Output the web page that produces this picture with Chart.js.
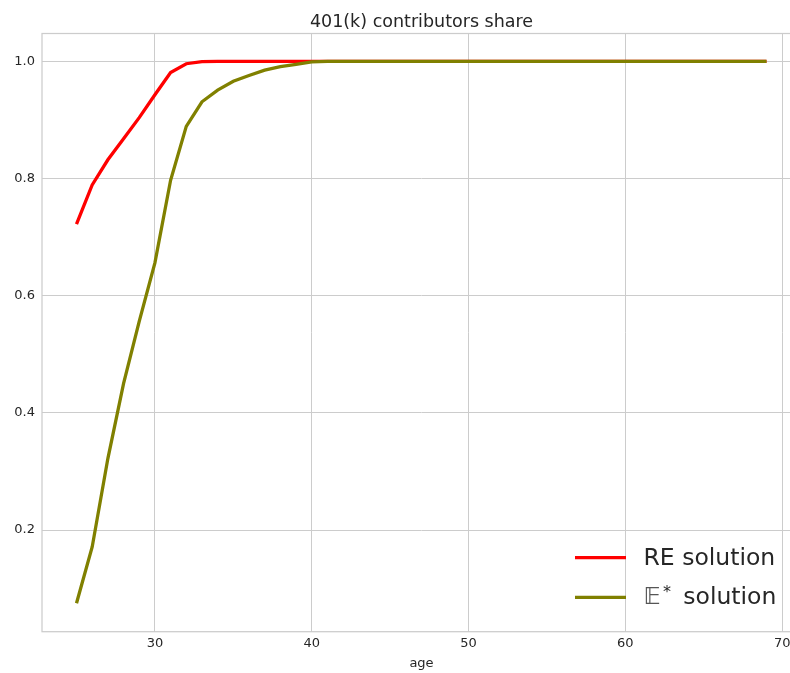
<!DOCTYPE html>
<html>
<head>
<meta charset="utf-8">
<script src="https://cdn.jsdelivr.net/npm/chart.js@4.4.1/dist/chart.umd.min.js"></script>
<style>
  html, body { margin: 0; padding: 0; background: #ffffff; overflow: hidden; width: 790px; height: 673px; }
  #clip { position: relative; width: 790px; height: 673px; overflow: hidden; }
  #wrap { position: absolute; left: 0; top: 0; width: 815px; height: 673px; }
</style>
</head>
<body>
<div id="clip"><div id="wrap"><canvas id="c"></canvas></div></div>
<script>
// ---- data ----
const titleText = "401(k) contributors share";
const xAxisLabel = "age";
const ages = [25, 26, 27, 28, 29, 30, 31, 32, 33, 34, 35, 36, 37, 38, 39, 40, 41, 42, 43, 44,
              45, 46, 47, 48, 49, 50, 51, 52, 53, 54, 55, 56, 57, 58, 59, 60, 61, 62, 63, 64,
              65, 66, 67, 68, 69];
const reSolution = [0.722, 0.789, 0.832, 0.868, 0.904, 0.943, 0.981, 0.996, 0.9995, 1.0,
                    1.0, 1.0, 1.0, 1.0, 1.0, 1.0, 1.0, 1.0, 1.0, 1.0,
                    1.0, 1.0, 1.0, 1.0, 1.0, 1.0, 1.0, 1.0, 1.0, 1.0,
                    1.0, 1.0, 1.0, 1.0, 1.0, 1.0, 1.0, 1.0, 1.0, 1.0,
                    1.0, 1.0, 1.0, 1.0, 1.0];
const eStarSolution = [0.075, 0.171, 0.322, 0.450, 0.556, 0.656, 0.797, 0.889, 0.931, 0.951,
                       0.966, 0.976, 0.985, 0.991, 0.995, 0.999, 1.0, 1.0, 1.0, 1.0,
                       1.0, 1.0, 1.0, 1.0, 1.0, 1.0, 1.0, 1.0, 1.0, 1.0,
                       1.0, 1.0, 1.0, 1.0, 1.0, 1.0, 1.0, 1.0, 1.0, 1.0,
                       1.0, 1.0, 1.0, 1.0, 1.0];
const seriesNames = ["RE solution", "E* solution"];
const xTicks = [30, 40, 50, 60, 70];
const yTicks = [0.2, 0.4, 0.6, 0.8, 1.0];

const textColor = '#262626';
const gridColor = '#cccccc';

Chart.defaults.font.family = '"DejaVu Sans", sans-serif';
Chart.defaults.color = textColor;

const framePlugin = {
  id: 'frame',
  beforeDatasetsDraw(chart) {
    const a = chart.chartArea, ctx = chart.ctx;
    ctx.save();
    ctx.strokeStyle = gridColor;
    ctx.lineWidth = 1.25;
    ctx.strokeRect(a.left, a.top, a.right - a.left, a.bottom - a.top);
    ctx.restore();
  }
};

const legendPlugin = {
  id: 'mplLegend',
  afterDraw(chart) {
    const ctx = chart.ctx;
    const ds = chart.data.datasets;
    const rows = [565, 604];
    const lineY = [557.7, 597.3];
    ctx.save();
    ctx.textBaseline = 'alphabetic';
    ctx.textAlign = 'left';
    ds.forEach((d, i) => {
      ctx.strokeStyle = d.borderColor;
      ctx.lineWidth = 3.3;
      ctx.lineCap = 'butt';
      ctx.beginPath();
      ctx.moveTo(575, lineY[i]);
      ctx.lineTo(626, lineY[i]);
      ctx.stroke();
    });
    ctx.fillStyle = textColor;
    ctx.font = '23.5px "DejaVu Sans"';
    ctx.fillText(seriesNames[0], 643.5, rows[0]);
    // blackboard-bold E with superscript star
    ctx.fillStyle = '#555555';
    ctx.fillText('\u{1D53C}', 643.5, rows[1]);
    ctx.font = '16px "DejaVu Sans"';
    ctx.fillStyle = textColor;
    ctx.fillText('*', 663, rows[1] - 7);
    ctx.font = '23.5px "DejaVu Sans"';
    ctx.fillText('solution', 683.3, rows[1]);
    ctx.restore();
  }
};

new Chart(document.getElementById('c'), {
  type: 'line',
  data: {
    datasets: [
      {
        label: seriesNames[0],
        data: ages.map((a, i) => ({ x: a, y: reSolution[i] })),
        borderColor: '#ff0000',
        backgroundColor: '#ff0000',
        borderWidth: 3.3,
        pointRadius: 0,
        tension: 0,
        fill: false,
        order: 1
      },
      {
        label: seriesNames[1],
        data: ages.map((a, i) => ({ x: a, y: eStarSolution[i] })),
        borderColor: '#808000',
        backgroundColor: '#808000',
        borderWidth: 3.3,
        pointRadius: 0,
        tension: 0,
        fill: false,
        order: 0
      }
    ]
  },
  options: {
    responsive: true,
    maintainAspectRatio: false,
    animation: false,
    devicePixelRatio: 1,
    layout: { padding: { left: 0, right: 14, top: 0, bottom: 0 } },
    plugins: {
      legend: { display: false },
      tooltip: { enabled: false },
      title: {
        display: true,
        text: titleText,
        fullSize: false,
        color: textColor,
        font: { size: 17.5, weight: 'normal' },
        padding: { top: 11.5, bottom: 1 }
      }
    },
    scales: {
      x: {
        type: 'linear',
        min: 22.8,
        max: 71.2,
        afterBuildTicks(scale) { scale.ticks = xTicks.map(v => ({ value: v })); },
        afterFit(scale) { scale.height = 41.3; },
        grid: { color: gridColor, lineWidth: 1, drawTicks: false },
        border: { display: false },
        ticks: {
          color: textColor,
          font: { size: 13 },
          padding: 4,
          maxRotation: 0,
          callback: v => String(v)
        },
        title: {
          display: true,
          text: xAxisLabel,
          color: textColor,
          font: { size: 13 },
          padding: { top: 0, bottom: 2 }
        }
      },
      y: {
        type: 'linear',
        min: 0.0264,
        max: 1.0476,
        afterBuildTicks(scale) { scale.ticks = yTicks.map(v => ({ value: v })); },
        afterFit(scale) { scale.width = 42; },
        grid: { color: gridColor, lineWidth: 1, drawTicks: false },
        border: { display: false },
        ticks: {
          color: textColor,
          font: { size: 13 },
          padding: 7,
          callback: v => Number(v).toFixed(1)
        }
      }
    }
  },
  plugins: [framePlugin, legendPlugin]
});
</script>
</body>
</html>
